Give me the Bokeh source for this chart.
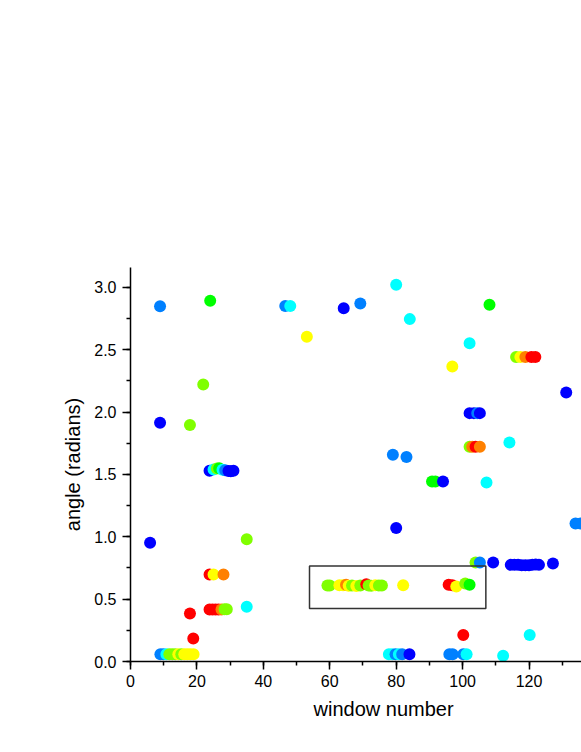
from bokeh.plotting import figure
from bokeh.models import (Range1d, SingleIntervalTicker, BoxAnnotation, Title,
                          ColumnDataSource, NumeralTickFormatter)
from bokeh.embed import file_html
from bokeh.resources import INLINE

# ---- data ----
window = [
    8.9, 24.0, 21.9, 8.9, 17.9,
    23.8, 25.0, 26.0, 26.7, 27.7, 28.5, 29.5, 30.2, 31.0,
    5.9, 35.0, 23.8, 25.0, 28.0,
    23.8, 24.7, 25.6, 26.5, 27.4, 28.3, 29.0,
    35.0, 17.9, 18.9,
    9.0, 9.9, 10.8, 11.7, 12.6, 13.5, 14.4, 15.3, 16.2, 17.1, 18.0, 19.0,
    46.6, 48.1, 64.2, 69.2, 80.0, 84.1, 53.1, 96.9, 79.0, 83.1,
    90.8, 91.8, 94.1, 80.0,
    59.3, 60.0, 62.9, 64.0, 64.9, 65.7, 66.7, 68.0, 69.2, 71.0, 71.7, 72.5, 73.7, 74.8, 75.7, 82.1,
    95.8, 96.9, 98.1, 100.8, 102.1,
    77.8, 78.8, 79.8, 80.8, 81.8, 84.0, 96.0, 97.0, 100.2, 101.2, 112.2,
    107.2, 134.0, 135.5,
    103.9, 105.2, 109.2, 114.5, 115.6, 116.7, 117.8, 118.9, 120.0, 121.0, 122.0, 123.0, 127.2,
    100.2, 120.2,
    108.1, 102.1,
    116.1, 117.4, 118.9, 120.7, 121.9,
    131.2,
    102.1, 103.4, 104.4, 105.2,
    114.1,
    102.1, 102.9, 103.9, 105.2,
]
angle = [
    2.850, 2.893, 2.222, 1.914, 1.896,
    1.530, 1.540, 1.548, 1.550, 1.538, 1.533, 1.528, 1.525, 1.530,
    0.952, 0.981, 0.698, 0.698, 0.698,
    0.417, 0.417, 0.417, 0.417, 0.417, 0.420, 0.420,
    0.439, 0.385, 0.184,
    0.059, 0.059, 0.059, 0.059, 0.059, 0.059, 0.059, 0.059, 0.059, 0.059, 0.059, 0.059,
    2.852, 2.852, 2.834, 2.871, 3.021, 2.746, 2.604, 2.366, 1.658, 1.641,
    1.444, 1.444, 1.444, 1.070,
    0.610, 0.610, 0.612, 0.612, 0.615, 0.608, 0.610, 0.605, 0.610, 0.620, 0.610, 0.608, 0.612, 0.610, 0.610, 0.612,
    0.615, 0.612, 0.601, 0.626, 0.615,
    0.059, 0.059, 0.059, 0.059, 0.059, 0.059, 0.059, 0.059, 0.059, 0.059, 0.046,
    1.436, 1.107, 1.107,
    0.794, 0.794, 0.794, 0.775, 0.775, 0.775, 0.772, 0.772, 0.772, 0.775, 0.778, 0.775, 0.786,
    0.212, 0.212,
    2.861, 2.553,
    2.443, 2.443, 2.443, 2.443, 2.443,
    2.157,
    1.992, 1.992, 1.992, 1.992,
    1.756,
    1.722, 1.722, 1.722, 1.722,
]
level = [
    "azure", "green", "chartreuse", "blue", "chartreuse",
    "blue", "cyan", "chartreuse", "green", "cyan", "azure", "blue", "blue", "blue",
    "blue", "chartreuse", "red", "yellow", "orange",
    "red", "red", "red", "red", "orange", "chartreuse", "chartreuse",
    "cyan", "red", "red",
    "azure", "azure", "cyan", "chartreuse", "chartreuse", "chartreuse", "yellow", "chartreuse", "yellow", "yellow", "yellow", "yellow",
    "azure", "cyan", "blue", "azure", "cyan", "cyan", "yellow", "yellow", "azure", "azure",
    "green", "green", "blue", "blue",
    "chartreuse", "chartreuse", "yellow", "yellow", "orange", "yellow", "chartreuse", "yellow", "chartreuse", "red", "chartreuse", "chartreuse", "yellow", "chartreuse", "chartreuse", "yellow",
    "red", "red", "yellow", "chartreuse", "green",
    "cyan", "cyan", "azure", "cyan", "azure", "blue", "azure", "azure", "azure", "cyan", "cyan",
    "cyan", "azure", "azure",
    "chartreuse", "azure", "blue", "blue", "blue", "blue", "blue", "blue", "blue", "blue", "blue", "blue", "blue",
    "red", "cyan",
    "green", "cyan",
    "chartreuse", "yellow", "orange", "red", "red",
    "blue",
    "blue", "blue", "azure", "blue",
    "cyan",
    "chartreuse", "orange", "red", "orange",
]
palette = {
    "blue": "#0000FF", "azure": "#0080FF", "cyan": "#00FFFF", "green": "#00FF00",
    "chartreuse": "#80FF00", "yellow": "#FFFF00", "orange": "#FF8000", "red": "#FF0000",
}
x_ticks_interval = 20
y_ticks_interval = 0.5
highlight_box = dict(left=53.9, right=107.0, bottom=0.425, top=0.765)

src = ColumnDataSource(dict(x=window, y=angle, c=[palette[k] for k in level]))

FONT = "Liberation Sans"

p = figure(width=581, height=750, output_backend="svg", toolbar_location=None,
           x_range=Range1d(0, 135.8), y_range=Range1d(0, 3.16),
           min_border_left=130, min_border_right=0, min_border_top=267, min_border_bottom=89)
p.outline_line_color = None
p.grid.visible = False
p.background_fill_color = "white"
p.border_fill_color = "white"

p.scatter("x", "y", source=src, size=12, fill_color="c", line_color=None)

p.add_layout(BoxAnnotation(**highlight_box, fill_alpha=0, fill_color=None,
                           line_color="#333333", line_alpha=1.0, line_width=1.5))

for ax in (p.xaxis[0], p.yaxis[0]):
    ax.axis_line_color = "black"
    ax.axis_line_width = 1.5
    ax.major_tick_line_color = "black"
    ax.major_tick_line_width = 1.5
    ax.minor_tick_line_color = "black"
    ax.minor_tick_line_width = 1.5
    ax.major_tick_out = 8
    ax.major_tick_in = 0
    ax.minor_tick_out = 4
    ax.minor_tick_in = 0
    ax.major_label_text_font = FONT
    ax.major_label_text_font_size = "16px"
    ax.major_label_text_color = "black"
    ax.axis_label_text_font = FONT
    ax.axis_label_text_font_size = "20px"
    ax.axis_label_text_font_style = "normal"
    ax.axis_label_text_color = "black"

p.xaxis.ticker = SingleIntervalTicker(interval=x_ticks_interval, num_minor_ticks=2)
p.yaxis.ticker = SingleIntervalTicker(interval=y_ticks_interval, num_minor_ticks=2)
p.xaxis.major_label_standoff = 5
p.yaxis.major_label_standoff = 6
p.yaxis.formatter = NumeralTickFormatter(format="0.0")
p.yaxis.axis_label = "angle (radians)"
p.yaxis.axis_label_standoff = 7

p.add_layout(Title(text="window number", align="left", offset=183, standoff=12,
                   text_font=FONT, text_font_size="20px", text_font_style="normal",
                   text_color="black"), "below")

open("out.html", "w").write(file_html(p, INLINE))
